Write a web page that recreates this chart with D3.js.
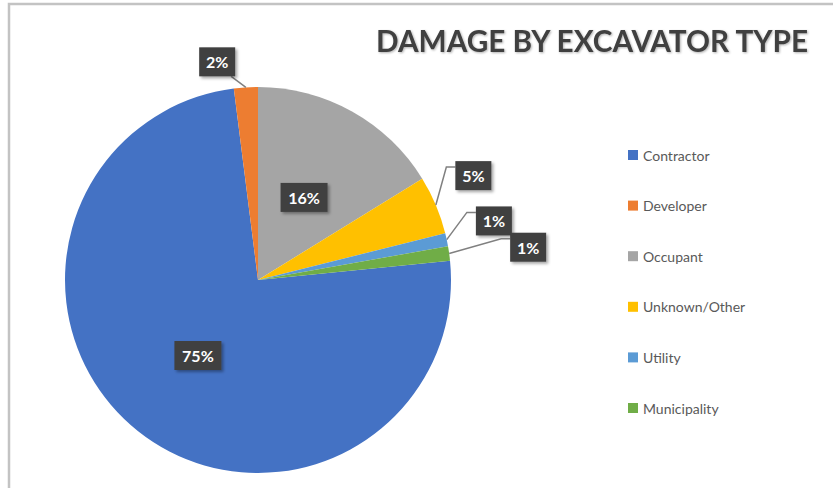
<!DOCTYPE html>
<html>
<head>
<meta charset="utf-8">
<script src="https://cdn.jsdelivr.net/npm/d3@7"></script>
<style>
  body { margin: 0; background: #fff; }
  svg { display: block; font-family: Lato, "Open Sans", sans-serif; }
</style>
</head>
<body>
<svg id="chart"></svg>
<script>
const w = 833;
const h = 488;

// data (percent of damages)
const categories = ["Contractor", "Developer", "Occupant", "Unknown/Other", "Utility", "Municipality"];
const shares = [74.6, 2.0, 16.2, 4.9, 1.1, 1.2];
const colors = ["#4472C4", "#ED7D31", "#A5A5A5", "#FFC000", "#5B9BD5", "#70AD47"];

// where each label box sits: radius as a share of r, and a nudge in degrees
const labelPlace = {
  "Contractor":    { r: 0.50, da: 0, inside: true },
  "Developer":     { r: 1.15, da: -7 },
  "Occupant":      { r: 0.49, da: 0, inside: true },
  "Unknown/Other": { r: 1.24, da: -3 },
  "Utility":       { r: 1.26, da: -2 },
  "Municipality":  { r: 1.41, da: 1 }
};

const svg = d3.select("#chart")
  .attr("width", w)
  .attr("height", h)
  .attr("viewBox", [0, 0, w, h]);

const defs = svg.append("defs");
const shadow = defs.append("filter").attr("id", "shadow")
  .attr("x", "-20%").attr("y", "-20%").attr("width", "150%").attr("height", "160%");
shadow.append("feDropShadow")
  .attr("dx", 2).attr("dy", 2).attr("stdDeviation", 1.6)
  .attr("flood-color", "#000").attr("flood-opacity", 0.35);

const tshadow = defs.append("filter").attr("id", "tshadow");
tshadow.append("feDropShadow")
  .attr("dx", 1).attr("dy", 1).attr("stdDeviation", 0.8)
  .attr("flood-color", "#000").attr("flood-opacity", 0.3);

// chart frame (only top and left edges visible)
svg.append("path")
  .attr("d", `M9,${h} V4 H${w}`)
  .attr("fill", "none")
  .attr("stroke", "#c3c3c3")
  .attr("stroke-width", 2.5);

// title
svg.append("text")
  .attr("x", 376)
  .attr("y", 52)
  .attr("font-size", 30)
  .attr("font-weight", "bold")
  .attr("fill", "#404040")
  .attr("textLength", 432)
  .attr("lengthAdjust", "spacingAndGlyphs")
  .attr("filter", "url(#tshadow)")
  .text("DAMAGE BY EXCAVATOR TYPE");

// pie
const cx = 258, cy = 280, r = 193;
const data = categories.map((c, i) => ({ name: c, value: shares[i], color: colors[i] }));
const total = d3.sum(shares);
const offset = -(shares[0] + shares[1]) / total * 2 * Math.PI;

const pie = d3.pie()
  .sort(null)
  .value(d => d.value)
  .startAngle(offset)
  .endAngle(offset + 2 * Math.PI);

const arcs = pie(data);
const arc = d3.arc().innerRadius(0).outerRadius(r);

const g = svg.append("g").attr("transform", `translate(${cx},${cy})`);

g.selectAll("path.slice")
  .data(arcs)
  .enter()
  .append("path")
  .attr("class", "slice")
  .attr("d", arc)
  .attr("fill", d => d.data.color);

const fmt = d3.format(".0%");
const pt = (ang, rad) => [Math.sin(ang) * rad, -Math.cos(ang) * rad];

const labels = g.append("g");
arcs.forEach(d => {
  const place = labelPlace[d.data.name];
  const mid = (d.startAngle + d.endAngle) / 2;
  const [lx, ly] = pt(mid + place.da * Math.PI / 180, r * place.r);
  const txt = fmt(d.data.value / total);
  const bw = 14 + txt.length * 11;
  const bh = 29;
  const bx = lx - bw / 2, by = ly - bh / 2;

  if (!place.inside) {
    const [sx, sy] = pt(mid, r);
    let line;
    if (lx < 0) {
      line = [[sx, sy], [bx + bw - 4, by + bh]];
    } else {
      line = [[sx, sy], [bx - 9, by + 6], [bx, by + 6]];
    }
    labels.append("path")
      .attr("d", d3.line()(line))
      .attr("fill", "none")
      .attr("stroke", "#808080")
      .attr("stroke-width", 1.5);
  }

  labels.append("rect")
    .attr("x", bx).attr("y", by)
    .attr("width", bw).attr("height", bh)
    .attr("fill", "#404040")
    .attr("filter", "url(#shadow)");

  labels.append("text")
    .attr("x", lx).attr("y", ly)
    .attr("text-anchor", "middle")
    .attr("dominant-baseline", "central")
    .attr("font-size", 16)
    .attr("font-weight", "bold")
    .attr("fill", "#fff")
    .text(txt);
});

// legend
const legendY = d3.scalePoint()
  .domain(categories)
  .range([155, 408]);

const legend = svg.append("g")
  .selectAll("g")
  .data(data)
  .enter()
  .append("g")
  .attr("transform", d => `translate(628, ${legendY(d.name)})`);

legend.append("rect")
  .attr("x", 0).attr("y", -5)
  .attr("width", 10).attr("height", 10)
  .attr("fill", d => d.color);

legend.append("text")
  .attr("x", 15)
  .attr("y", 0)
  .attr("dominant-baseline", "central")
  .attr("font-size", 14)
  .attr("fill", "#595959")
  .text(d => d.name);
</script>
</body>
</html>
